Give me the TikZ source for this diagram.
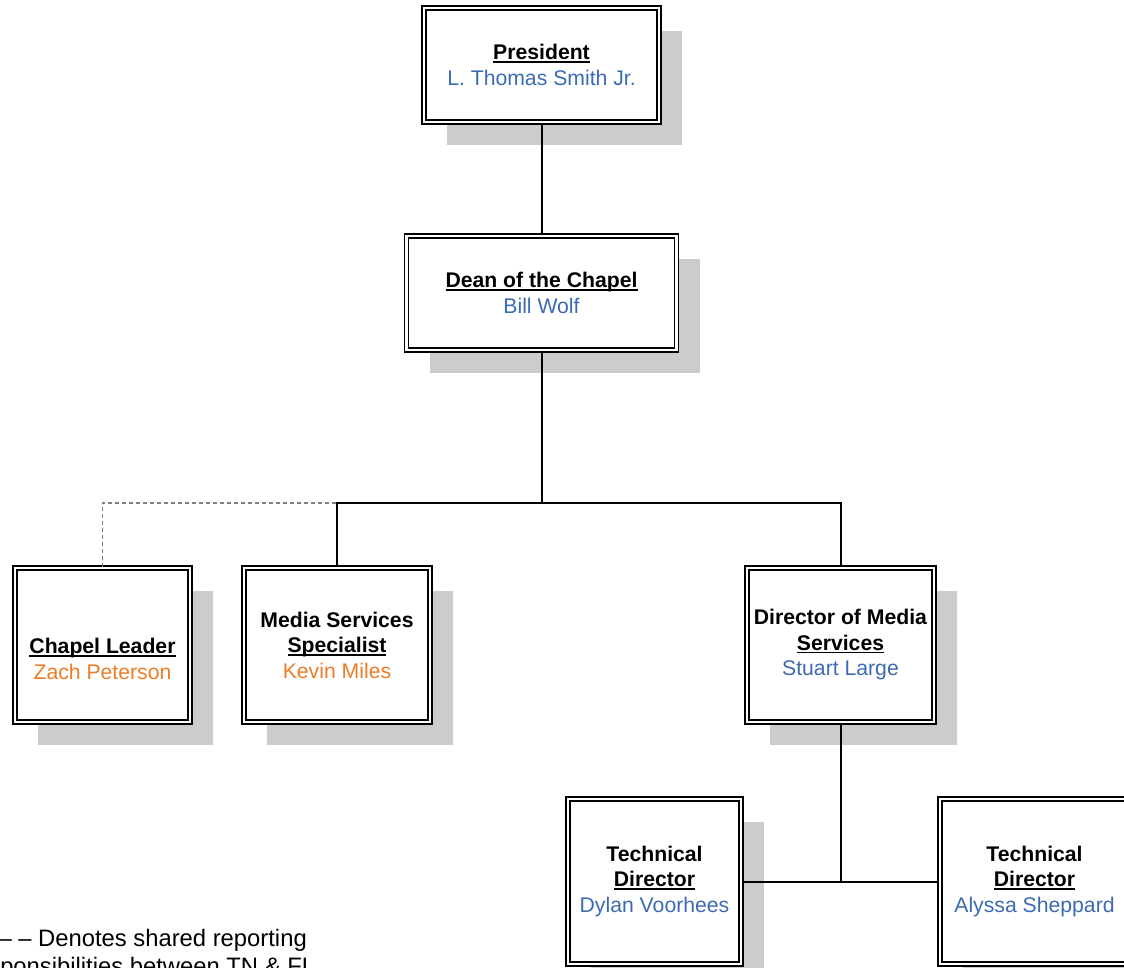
\documentclass[tikz,border=0pt]{standalone}
\usepackage{fontspec}
\setmainfont{Liberation Sans}
\usetikzlibrary{shadows}
\definecolor{nameblue}{HTML}{3D6BB3}
\definecolor{nameorange}{HTML}{EC7C26}
\definecolor{shade}{HTML}{CCCCCC}
\newcommand\ulhead[1]{\setbox0\hbox{#1}\rlap{\rule[-3pt]{\wd0}{1.5pt}}\box0}

\begin{document}
\begin{tikzpicture}[x=1pt, y=-1pt,
  post/.style={draw, line width=1.7pt, double, double distance=2.5pt, fill=white,
    align=center, inner sep=0pt, font=\fontsize{21.2}{25.5}\selectfont,
    drop shadow={shadow xshift=23pt, shadow yshift=-23pt, opacity=1, fill=shade}},
  link/.style={line width=2pt},
  shared/.style={gray, line width=1.2pt, dash pattern=on 4pt off 3pt},
  keytext/.style={inner sep=0pt, font=\fontsize{23.8}{28.5}\selectfont}]
 \useasboundingbox (0,0) rectangle (1124,968);
 \clip (0,0) rectangle (1124,968);

 \node[post, minimum width=235pt, minimum height=114pt] (president) at (541.5,65)
   {\textbf{\ulhead{President}}\\ \textcolor{nameblue}{L. Thomas Smith Jr.}};
 \node[post, minimum width=270pt, minimum height=114pt] (dean) at (541.5,293)
   {\textbf{\ulhead{Dean of the Chapel}}\\ \textcolor{nameblue}{Bill Wolf}};
 \node[post, minimum width=175pt, minimum height=154pt] (chapel) at (102.5,645)
   {\strut\\ \textbf{\ulhead{Chapel Leader}}\\ \textcolor{nameorange}{Zach Peterson}};
 \node[post, minimum width=186pt, minimum height=154pt] (spec) at (337,645)
   {\textbf{Media Services}\\ \textbf{\ulhead{Specialist}}\\ \textcolor{nameorange}{Kevin Miles}};
 \node[post, minimum width=187pt, minimum height=154pt] (director) at (840.5,645)
   {\textbf{Director of Media}\\ \textbf{\ulhead{Services}}\\ \textcolor{nameblue}{Stuart Large}};
 \node[post, minimum width=173pt, minimum height=165pt] (techL) at (654.5,881.5)
   {\textbf{Technical}\\ \textbf{\ulhead{Director}}\\ \textcolor{nameblue}{Dylan Voorhees}};
 \node[post, minimum width=189pt, minimum height=165pt] (techR) at (1034.5,881.5)
   {\textbf{Technical}\\ \textbf{\ulhead{Director}}\\ \textcolor{nameblue}{Alyssa Sheppard}};

 \coordinate (bus) at (541.5,503);
 \draw[link] (president.south) -- (dean.north);
 \draw[link] (dean.south) -- (bus);
 \draw[link] (spec.north) |- (bus) -| (director.north);
 \draw[shared] (chapel.north) |- (bus -| spec.north);
 \draw[link] (director.south) -- (director.south |- techL.east);
 \draw[link] (techL.east) -- (techR.west);

 \node[keytext, anchor=base east] (keyline) at (307,946)
   {\textendash\ \textendash\ Denotes shared reporting};
 \node[keytext, anchor=base west] (keyline2) at (-33,974.5)
   {responsibilities between TN \& FL};
\end{tikzpicture}
\end{document}
